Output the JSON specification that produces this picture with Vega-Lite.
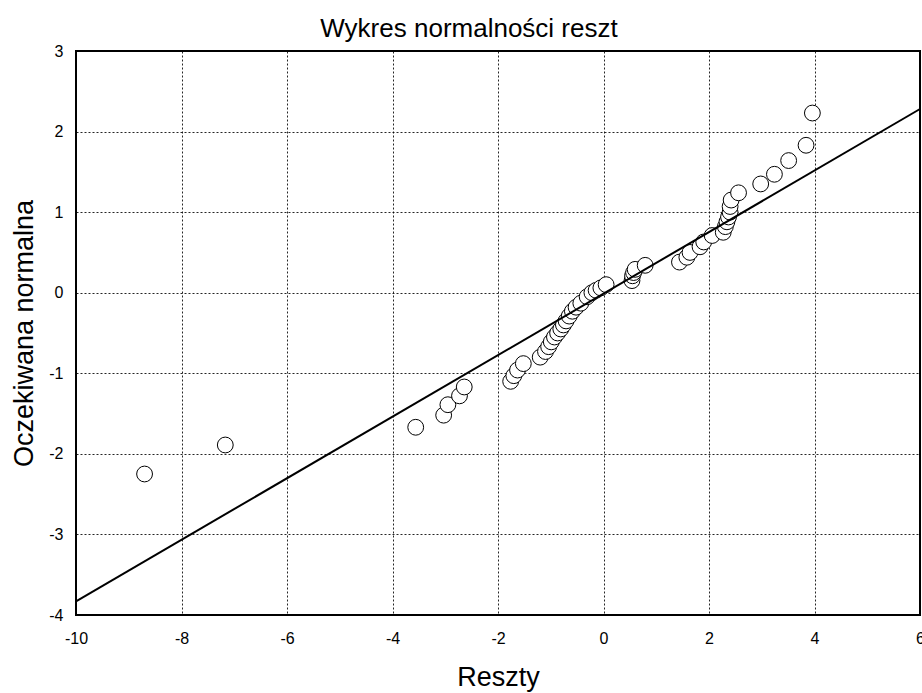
{
  "$schema": "https://vega.github.io/schema/vega-lite/v6.json",
  "width": 844,
  "height": 564,
  "autosize": {"type": "none"},
  "padding": {"left": 76, "top": 51, "right": 2, "bottom": 78},
  "background": "white",
  "config": {
    "font": "Liberation Sans",
    "view": {"stroke": "black", "strokeWidth": 2},
    "axis": {
      "domain": false,
      "ticks": false,
      "grid": true,
      "gridColor": "#000000",
      "gridDash": [2, 2],
      "gridOpacity": 0.85,
      "gridWidth": 1,
      "labelFont": "Liberation Sans",
      "labelFontSize": 16,
      "labelColor": "black",
      "labelFlush": false,
      "labelOverlap": false,
      "labelExpr": "'' + datum.value",
      "titleFont": "Liberation Sans",
      "titleFontWeight": "normal",
      "titleFontSize": 27,
      "titleColor": "black"
    }
  },
  "title": {
    "text": "Wykres normalności reszt",
    "font": "Liberation Sans",
    "fontSize": 26,
    "fontWeight": "normal",
    "color": "black",
    "dx": -29,
    "offset": 1
  },
  "datasets": {
    "pts": [
      {"r": -8.70, "e": -2.25},
      {"r": -7.17, "e": -1.89},
      {"r": -3.56, "e": -1.67},
      {"r": -3.03, "e": -1.52},
      {"r": -2.95, "e": -1.39},
      {"r": -2.73, "e": -1.28},
      {"r": -2.64, "e": -1.17},
      {"r": -1.76, "e": -1.10},
      {"r": -1.70, "e": -1.03},
      {"r": -1.63, "e": -0.96},
      {"r": -1.52, "e": -0.88},
      {"r": -1.20, "e": -0.80},
      {"r": -1.10, "e": -0.73},
      {"r": -1.04, "e": -0.67},
      {"r": -0.99, "e": -0.61},
      {"r": -0.93, "e": -0.55},
      {"r": -0.87, "e": -0.50},
      {"r": -0.81, "e": -0.45},
      {"r": -0.76, "e": -0.40},
      {"r": -0.71, "e": -0.35},
      {"r": -0.65, "e": -0.29},
      {"r": -0.59, "e": -0.23},
      {"r": -0.52, "e": -0.18},
      {"r": -0.43, "e": -0.13},
      {"r": -0.31, "e": -0.05},
      {"r": -0.22, "e": 0.00},
      {"r": -0.14, "e": 0.03},
      {"r": -0.05, "e": 0.06},
      {"r": 0.05, "e": 0.10},
      {"r": 0.54, "e": 0.15},
      {"r": 0.55, "e": 0.21},
      {"r": 0.57, "e": 0.25},
      {"r": 0.60, "e": 0.29},
      {"r": 0.79, "e": 0.34},
      {"r": 1.44, "e": 0.38},
      {"r": 1.58, "e": 0.44},
      {"r": 1.64, "e": 0.50},
      {"r": 1.83, "e": 0.57},
      {"r": 1.90, "e": 0.63},
      {"r": 2.06, "e": 0.71},
      {"r": 2.27, "e": 0.75},
      {"r": 2.31, "e": 0.82},
      {"r": 2.34, "e": 0.88},
      {"r": 2.37, "e": 0.94},
      {"r": 2.40, "e": 1.00},
      {"r": 2.40, "e": 1.07},
      {"r": 2.42, "e": 1.15},
      {"r": 2.56, "e": 1.24},
      {"r": 2.98, "e": 1.35},
      {"r": 3.24, "e": 1.47},
      {"r": 3.51, "e": 1.64},
      {"r": 3.84, "e": 1.83},
      {"r": 3.96, "e": 2.23}
    ],
    "fit": [
      {"r": -10, "e": -3.83},
      {"r": 6, "e": 2.28}
    ]
  },
  "layer": [
    {
      "data": {"name": "pts"},
      "mark": {"type": "point", "shape": "circle", "filled": true, "fill": "white", "stroke": "black", "strokeWidth": 1, "size": 250, "opacity": 1},
      "encoding": {
        "x": {
          "field": "r", "type": "quantitative",
          "scale": {"domain": [-10, 6], "nice": false, "zero": false},
          "axis": {"title": "Reszty", "values": [-10, -8, -6, -4, -2, 0, 2, 4, 6], "labelPadding": 15, "titlePadding": 18}
        },
        "y": {
          "field": "e", "type": "quantitative",
          "scale": {"domain": [-4, 3], "nice": false, "zero": false},
          "axis": {"title": "Oczekiwana normalna", "values": [-4, -3, -2, -1, 0, 1, 2, 3], "labelPadding": 13, "titlePadding": 10}
        }
      }
    },
    {
      "data": {"name": "fit"},
      "mark": {"type": "line", "color": "black", "strokeWidth": 2},
      "encoding": {
        "x": {"field": "r", "type": "quantitative"},
        "y": {"field": "e", "type": "quantitative"}
      }
    }
  ]
}
